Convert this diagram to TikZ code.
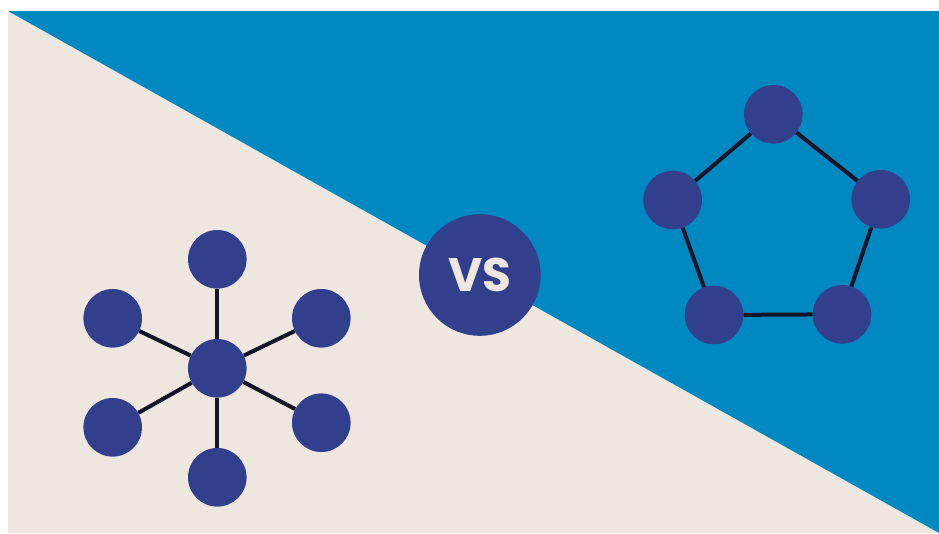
\documentclass[tikz,border=0pt]{standalone}
\usepackage{fontspec}
\newfontfamily\vsfont{Poppins}
\definecolor{seablue}{HTML}{0089C1}
\definecolor{sand}{HTML}{EDE7DF}
\definecolor{dotblue}{HTML}{323F8D}
\definecolor{wire}{HTML}{15152A}
\begin{document}
\begin{tikzpicture}
    [
        x = 1pt, y = -1pt,
        dot/.style = {circle, fill = dotblue, minimum size = 58.6pt, inner sep = 0pt},
        link/.style = {draw = wire, line width = 4pt}
    ]

        \useasboundingbox (0,0) rectangle (939,533);
        \fill[white] (0,0) rectangle (939,533);
        \fill[sand] (8,11) -- (939,533) -- (8,533) -- cycle;
        \fill[seablue] (8,11) -- (939,11) -- (939,533) -- cycle;

        % star
        \node[dot] (Hub) at (217.3,368.3) {};
        \node[dot] (StarN) at (217.3,259.3) {};
        \node[dot] (StarNW) at (112.7,318.3) {};
        \node[dot] (StarNE) at (321.3,318.3) {};
        \node[dot] (StarSW) at (112.7,427.3) {};
        \node[dot] (StarSE) at (321.3,422.7) {};
        \node[dot] (StarS) at (217.3,477.3) {};
        \foreach \leaf in {StarN, StarNW, StarNE, StarSW, StarSE, StarS}
            \draw[link] (Hub) -- (\leaf);

        % ring
        \node[dot] (RingTop) at (773.3,114.3) {};
        \node[dot] (RingRight) at (880.7,199.3) {};
        \node[dot] (RingLowR) at (842,314.3) {};
        \node[dot] (RingLowL) at (714,315) {};
        \node[dot] (RingLeft) at (672.7,200) {};
        \draw[link] (RingTop) -- (RingRight);
        \draw[link] (RingRight) -- (RingLowR);
        \draw[link] (RingLowR) -- (RingLowL);
        \draw[link] (RingLowL) -- (RingLeft);
        \draw[link] (RingLeft) -- (RingTop);

        \node[circle, fill = dotblue, minimum size = 121.6pt, inner sep = 0pt,
              text = sand, font = \vsfont\bfseries\fontsize{47}{47}\selectfont] (Versus) at (479.8,275) {VS};
    \end{tikzpicture}
\end{document}
